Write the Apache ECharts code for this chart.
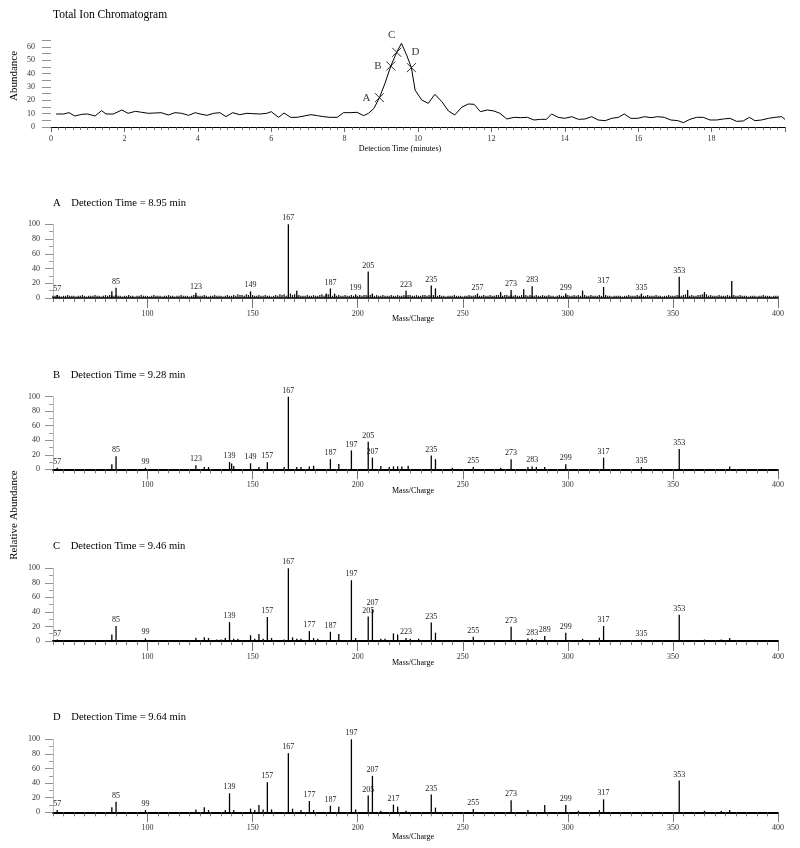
<!DOCTYPE html>
<html><head><meta charset="utf-8">
<script src="https://cdn.jsdelivr.net/npm/echarts@6/dist/echarts.min.js"></script>
<style>html,body{margin:0;padding:0;background:#fff}#c{width:800px;height:848px}</style>
</head><body><div id="c"></div>
<script>
const FONT = '"Liberation Serif", "Times New Roman", serif';

// ---- Total ion chromatogram ----
const ticTime = [0.14,0.34,0.49,0.65,0.84,1.0,1.2,1.38,1.5,1.7,1.93,2.1,2.3,2.47,2.65,2.84,3.0,3.2,3.38,3.56,3.75,3.93,4.06,4.25,4.43,4.6,4.77,4.95,5.14,5.34,5.5,5.7,5.88,6.0,6.2,6.35,6.53,6.7,6.9,7.08,7.26,7.43,7.6,7.8,7.97,8.15,8.34,8.52,8.65,8.8,8.95,9.1,9.26,9.42,9.55,9.69,9.82,9.92,10.1,10.28,10.46,10.65,10.83,11.0,11.19,11.37,11.53,11.7,11.89,12.07,12.23,12.42,12.62,12.8,12.98,13.16,13.34,13.5,13.64,13.82,14.0,14.19,14.37,14.55,14.73,14.91,15.1,15.28,15.46,15.62,15.8,15.99,16.17,16.35,16.53,16.71,16.89,17.08,17.23,17.41,17.59,17.77,17.96,18.14,18.32,18.5,18.68,18.86,19.03,19.18,19.36,19.55,19.73,19.91,20.0];
const ticAbund = [9.75,9.75,10.75,8.25,9.5,9.75,8.25,12.25,9.75,9.75,12.75,10.25,11.75,11,10.25,10.5,10.75,9,10.75,10.25,8.75,10.75,9.75,8.75,10.25,10.75,7.75,10.75,9.25,10.25,10,9.75,10.25,11.5,7.25,10.5,7.25,7.25,8.25,9.25,8.5,7.75,7.25,7.25,10.75,10.75,11,8.5,10.25,14,22,32.75,45.75,56,62.75,54,44.5,27.75,20.25,17.75,24.5,19,12,9,14.75,17.25,17,11.5,12.75,12,10.25,6,7.25,7,7.25,5.25,5.75,5.75,9.75,7.25,6.5,7.75,5.75,6,7.75,5.25,4.75,6.5,7.25,9.75,6.5,6.5,7.75,7,7.75,7.25,5.25,4.75,3.25,5.75,7.25,7.25,5.25,5.25,6,6.5,4.25,4.5,7.25,4.75,5.25,6.5,7.25,7.75,5.75];
const markerNames = ['A','B','C','D'];
const markerTime = [8.95, 9.26, 9.42, 9.82];
const markerAbund = [22, 45.75, 56, 44.5];

// ---- Mass spectra ----
const panelTitles = ['A    Detection Time = 8.95 min','B    Detection Time = 9.28 min','C    Detection Time = 9.46 min','D    Detection Time = 9.64 min'];
const massTickLabels = [100,150,200,250,300,350,400];

const peaksA = [[57,4],[83,9],[85,14],[123,7],[149,9],[167,100],[171,10],[185,6],[187,13],[189,6],[199,5],[205,36],[207,6],[223,10],[235,17],[237,13],[257,6],[268,8],[273,11],[279,12],[283,16],[299,6],[307,10],[317,15],[335,6],[353,29],[357,11],[365,8],[378,23]];
const labelsA = [57,85,123,149,167,187,199,205,223,235,257,273,283,299,317,335,353];
const noiseStartA = 55;
const noiseA = [3,3,4,3,2,3,3,4,3,3, 3,2,3,3,4,3,2,3,3,3, 4,3,3,2,3,4,3,4,3,3, 4,3,3,2,3,3,4,3,3,2, 3,3,4,3,3,3,2,3,4,3, 3,3,2,3,3,4,3,3,2,3, 3,4,3,3,3,2,3,4,4,3, 3,3,4,3,2,3,3,4,3,3, 3,2,3,4,3,3,4,3,5,4, 4,3,5,4,3,4,3,3,4,3, 3,4,3,3,2,3,4,3,5,4, 5,3,4,6,4,5,3,4,3,3, 3,4,3,3,4,3,3,4,5,3, 4,5,4,3,4,3,4,3,3,4, 3,3,4,3,3,3,4,3,4,4, 3,4,5,3,4,3,3,4,3,3, 3,4,3,3,4,3,3,4,3,4, 4,3,3,4,3,3,4,4,3,4, 3,4,3,3,4,3,3,2,3,3, 3,4,3,3,3,2,3,3,4,3, 3,4,3,3,3,4,3,3,4,3, 3,4,4,5,3,4,4,3,4,3, 4,3,3,4,3,4,3,4,3,3, 4,3,3,4,3,3,4,3,3,2, 3,4,3,3,4,4,3,3,4,3, 4,3,3,4,3,3,4,3,3,3, 4,3,3,4,3,3,2,3,3,3, 3,2,3,3,4,3,3,3,4,3, 4,3,3,4,3,3,3,4,3,3, 2,3,3,4,3,3,3,4,3,3, 4,5,3,3,4,3,3,4,4,5, 4,5,3,4,3,3,3,4,3,3, 3,4,3,3,4,3,3,4,3,3, 3,2,3,3,3,2,3,3,4,3, 3,3,2,3,3,3];

const peaksB = [[57,2],[83,7],[85,18],[99,2],[123,5.5],[127,3],[129,3],[139,10],[140,8],[141,4.6],[149,8.3],[153,3],[157,9.6],[165,3],[167,100],[171,3],[173,3],[177,4],[179,5],[187,14],[191,7.3],[197,26],[205,38],[207,16],[211,4.6],[215,3],[217,4],[219,4],[221,4],[224,5],[235,19],[237,14],[245,2],[255,3],[268,2],[273,14],[281,3],[283,4],[285,3],[289,3],[299,7],[317,16],[335,3],[353,28],[377,4]];
const labelsB = [57,85,99,123,139,149,157,167,187,197,205,207,235,255,273,283,299,317,335,353];

const peaksC = [[57,2],[83,9],[85,20.5],[99,3.6],[123,4.5],[127,5],[129,4],[133,2],[135,2],[137,4],[139,26],[141,3],[143,3],[149,8],[151,3],[153,9.5],[155,3],[157,33],[159,4],[165,2],[167,100],[169,5],[171,3],[173,3],[177,13.6],[179,4],[181,3],[187,12.7],[191,9.5],[197,83.6],[199,4],[205,33.6],[207,43.6],[211,3],[213,3],[217,10.5],[219,9],[223,4],[225,3],[229,3],[235,25.5],[237,11.4],[255,6],[273,19.5],[281,3.6],[283,3],[285,2],[289,6.8],[299,11.4],[307,3],[315,4.5],[317,20.5],[335,2],[353,36],[365,2],[373,2],[377,4]];
const labelsC = [57,85,99,139,157,167,177,187,197,205,207,223,235,255,273,283,289,299,317,335,353];

const peaksD = [[57,3],[83,7],[85,14.5],[99,3],[123,4],[127,7],[129,3],[137,3],[139,26],[141,3],[149,5],[151,3],[153,10],[155,4],[157,41],[159,4],[167,81],[169,5],[173,3],[177,15.5],[179,3],[187,9],[191,7.7],[197,100],[199,4],[205,23],[207,50],[211,2],[217,10.5],[219,7.7],[223,2],[235,24.5],[237,6.4],[255,4.5],[273,16.4],[281,3],[289,10],[299,10],[305,2],[315,3],[317,17.7],[353,43.6],[365,2],[373,2],[377,3]];
const labelsD = [57,85,99,139,157,167,177,187,197,205,207,217,235,255,273,299,317,353];

const panels = [
  {peaks: peaksA, labels: labelsA, noise: noiseA},
  {peaks: peaksB, labels: labelsB, noise: null},
  {peaks: peaksC, labels: labelsC, noise: null},
  {peaks: peaksD, labels: labelsD, noise: null}
];

// ---- layout ----
const specTop = [224.3, 396.7, 568.3, 739.3];
const specH = [73.7, 72.6, 72.7, 73.0];
const titleY = [203, 375, 546, 717];
const massLabelY = [319, 491, 663, 837];

const minorMass = [];
for (let m = 55; m <= 400; m += 5) minorMass.push(m);

const grids = [{left: 51, right: 15, top: 40.3, height: 86.7}];
const xAxes = [{
  type: 'value', gridIndex: 0, min: 0, max: 20, interval: 2,
  axisLine: {show: true, onZero: false, lineStyle: {color: '#000', width: 1}},
  axisTick: {show: true, length: 5, lineStyle: {color: '#444', width: 0.8}},
  minorTick: {show: true, splitNumber: 10, length: 3, lineStyle: {color: '#555', width: 0.8}},
  axisLabel: {fontSize: 8, color: '#333', fontFamily: FONT, margin: 8, formatter: v => v === 20 ? '' : String(v)},
  splitLine: {show: false}
}];
const yAxes = [{
  type: 'value', gridIndex: 0, min: 0, max: 65,
  axisLine: {show: false},
  axisTick: {show: true, customValues: [0,5,10,15,20,25,30,35,40,45,50,55,60,65], length: 9, lineStyle: {color: '#777', width: 0.8}},
  axisLabel: {customValues: [0,10,20,30,40,50,60], fontSize: 8, color: '#333', fontFamily: FONT, margin: 16},
  splitLine: {show: false}
}];

const series = [{
  type: 'line', xAxisIndex: 0, yAxisIndex: 0,
  data: ticTime.map((t, i) => [t, ticAbund[i]]),
  showSymbol: false, symbol: 'none',
  lineStyle: {color: '#000', width: 1}
}, {
  type: 'scatter', xAxisIndex: 0, yAxisIndex: 0,
  symbol: 'path://M0,0L10,10M10,0L0,10', symbolSize: 9,
  itemStyle: {color: 'rgba(0,0,0,0)', borderColor: '#000', borderWidth: 1},
  data: markerNames.map((n, i) => ({
    name: n, value: [markerTime[i], markerAbund[i]],
    label: {offset: [[-13,0],[-13,0],[-5,-17],[4,-16]][i]}
  })),
  label: {show: true, position: 'inside', formatter: p => p.name, fontSize: 11, fontFamily: FONT, color: '#000'},
  z: 5
}];

panels.forEach((p, k) => {
  const g = k + 1;
  grids.push({left: 53, right: 22, top: specTop[k], height: specH[k]});
  const xi = xAxes.length;
  xAxes.push({
    type: 'value', gridIndex: g, min: 55, max: 400,
    axisLine: {show: true, onZero: false, lineStyle: {color: '#000', width: k === 0 ? 1.5 : 2}},
    axisTick: {show: false}, axisLabel: {show: false}, splitLine: {show: false}
  });
  xAxes.push({
    type: 'value', gridIndex: g, min: 55, max: 400, position: 'bottom', offset: 3,
    axisLine: {show: false},
    axisTick: {show: true, customValues: minorMass, length: 4, lineStyle: {color: '#555', width: 0.8}},
    axisLabel: {show: false}, splitLine: {show: false}
  });
  xAxes.push({
    type: 'value', gridIndex: g, min: 55, max: 400, position: 'bottom', offset: 3,
    axisLine: {show: false},
    axisTick: {show: true, customValues: massTickLabels, length: 7, lineStyle: {color: '#555', width: 0.8}},
    axisLabel: {customValues: massTickLabels, fontSize: 8, color: '#333', fontFamily: FONT, margin: 9},
    splitLine: {show: false}
  });
  yAxes.push({
    type: 'value', gridIndex: g, min: 0, max: 100, interval: 20,
    axisLine: {show: true, lineStyle: {color: '#aaa', width: 0.8}},
    axisTick: {show: true, length: 8, lineStyle: {color: '#777', width: 0.8}},
    minorTick: {show: true, splitNumber: 2, length: 4, lineStyle: {color: '#888', width: 0.8}},
    axisLabel: {fontSize: 8, color: '#333', fontFamily: FONT, margin: 13},
    splitLine: {show: false}
  });
  if (p.noise) {
    series.push({
      type: 'bar', xAxisIndex: xi, yAxisIndex: g, barWidth: 1.2, barGap: '-100%',
      data: p.noise.map((v, i) => [noiseStartA + i, v]),
      itemStyle: {color: '#111'}, z: 2
    });
  }
  series.push({
    type: 'bar', xAxisIndex: xi, yAxisIndex: g, barWidth: 1.3, barGap: '-100%',
    data: p.peaks.map(([m, v]) => ({value: [m, v], label: {show: p.labels.includes(m)}})),
    itemStyle: {color: '#000'},
    label: {position: 'top', distance: 2, fontSize: 8, color: '#222', fontFamily: FONT, formatter: q => String(q.value[0])},
    z: 3
  });
});

const graphics = [
  {type: 'text', x: 53, y: 15, style: {text: 'Total Ion Chromatogram', font: '11.5px ' + FONT, fill: '#000', textVerticalAlign: 'middle'}},
  {type: 'text', x: 14, y: 76, rotation: Math.PI / 2, style: {text: 'Abundance', font: '11px ' + FONT, fill: '#000', textAlign: 'center', textVerticalAlign: 'middle'}},
  {type: 'text', x: 400, y: 149, style: {text: 'Detection Time (minutes)', font: '8px ' + FONT, fill: '#000', textAlign: 'center', textVerticalAlign: 'middle'}},
  {type: 'text', x: 14, y: 515, rotation: Math.PI / 2, style: {text: 'Relative Abundance', font: '11px ' + FONT, fill: '#000', textAlign: 'center', textVerticalAlign: 'middle'}}
];
panelTitles.forEach((t, k) => {
  graphics.push({type: 'text', x: 53, y: titleY[k], style: {text: t, font: '10.6px ' + FONT, fill: '#000', textVerticalAlign: 'middle'}});
  graphics.push({type: 'text', x: 413, y: massLabelY[k], style: {text: 'Mass/Charge', font: '8px ' + FONT, fill: '#000', textAlign: 'center', textVerticalAlign: 'middle'}});
});

const chart = echarts.init(document.getElementById('c'), null, {renderer: 'canvas'});
chart.setOption({
  animation: false,
  backgroundColor: '#fff',
  grid: grids,
  xAxis: xAxes,
  yAxis: yAxes,
  series: series,
  graphic: graphics
});
</script>
</body></html>
